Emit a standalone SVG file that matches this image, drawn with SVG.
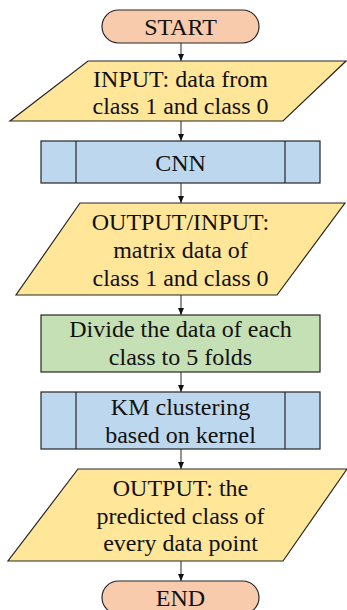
<svg xmlns="http://www.w3.org/2000/svg" width="347" height="610" viewBox="0 0 347 610">
<defs>
<style>
.s{stroke:#262626;stroke-width:1.2}
.term{fill:#F8CBAD}
.io{fill:#FFE699}
.proc{fill:#C5E0B4}
.sub{fill:#BDD7EE}
text{font-family:"Liberation Serif","Times New Roman",serif;font-size:24px;fill:#111;text-anchor:middle}
.c{stroke:#262626;stroke-width:1;fill:none;marker-end:url(#ah)}
</style>
<marker id="ah" markerWidth="7" markerHeight="6" refX="7" refY="3" orient="auto" markerUnits="userSpaceOnUse">
<path d="M0,0 L7,3 L0,6 z" fill="#111"/>
</marker>
</defs>
<rect width="347" height="610" fill="#fff"/>
<g id="connectors">
<line class="c" x1="181" y1="43" x2="181" y2="61"/>
<line class="c" x1="181" y1="121" x2="181" y2="141"/>
<line class="c" x1="181" y1="183" x2="181" y2="203"/>
<line class="c" x1="181" y1="295" x2="181" y2="315"/>
<line class="c" x1="181" y1="372" x2="181" y2="392"/>
<line class="c" x1="181" y1="449" x2="181" y2="469"/>
<line class="c" x1="181" y1="561" x2="181" y2="581"/>
</g>
<g id="start">
<rect class="s term" x="102" y="10" width="157" height="33" rx="16.5"/>
<text x="180.5" y="35">START</text>
</g>
<g id="input">
<polygon class="s io" points="88,61 346,61 283,121 10,121"/>
<text x="180.5" y="87">INPUT: data from</text>
<text x="180.5" y="114">class 1 and class 0</text>
</g>
<g id="cnn">
<rect class="s sub" x="41" y="141" width="279" height="42"/>
<line class="s" x1="76" y1="141" x2="76" y2="183"/>
<line class="s" x1="285" y1="141" x2="285" y2="183"/>
<text x="180.5" y="171">CNN</text>
</g>
<g id="outin">
<polygon class="s io" points="80,203 345,203 277,295 16,295"/>
<text x="180.5" y="230">OUTPUT/INPUT:</text>
<text x="180.5" y="258">matrix data of</text>
<text x="180.5" y="286">class 1 and class 0</text>
</g>
<g id="divide">
<rect class="s proc" x="41" y="315" width="279" height="57"/>
<text x="180.5" y="337">Divide the data of each</text>
<text x="180.5" y="365">class to 5 folds</text>
</g>
<g id="km">
<rect class="s sub" x="41" y="392" width="279" height="57"/>
<line class="s" x1="76" y1="392" x2="76" y2="449"/>
<line class="s" x1="285" y1="392" x2="285" y2="449"/>
<text x="180.5" y="415">KM clustering</text>
<text x="180.5" y="443">based on kernel</text>
</g>
<g id="output">
<polygon class="s io" points="78,469 347,469 283,561 8,561"/>
<text x="180.5" y="496">OUTPUT: the</text>
<text x="180.5" y="524">predicted class of</text>
<text x="180.5" y="551">every data point</text>
</g>
<g id="end">
<rect class="s term" x="102" y="581" width="157" height="33" rx="16.5"/>
<text x="180.5" y="606">END</text>
</g>
</svg>
